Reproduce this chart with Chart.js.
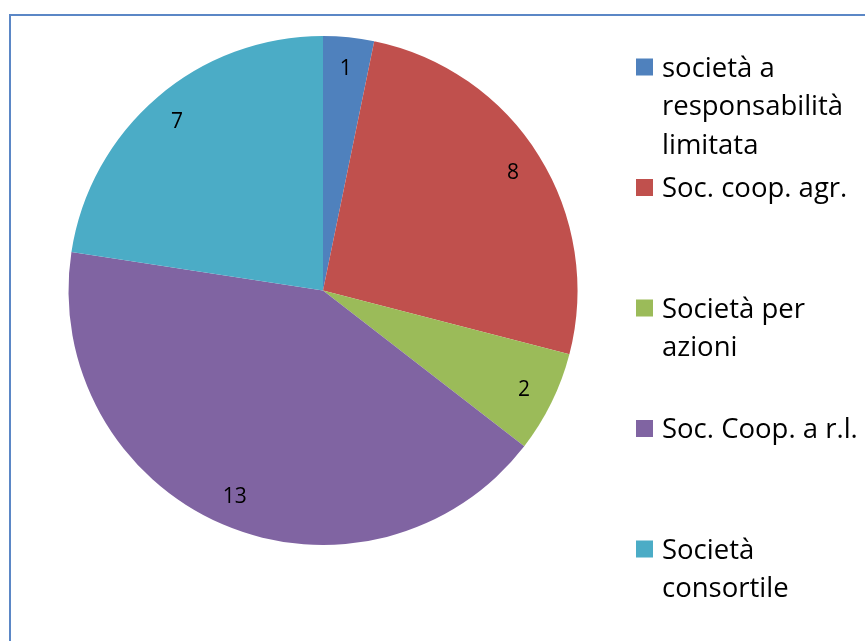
<!DOCTYPE html>
<html>
  <head>
    <meta charset="utf-8">
    <title>Forme giuridiche</title>
    <style>
      body {
        background-color: white;
        margin: 0;
        padding: 0;
      }
      .chart-box {
        width: 865px;
        height: 641px;
      }
    </style>
    <script src="https://cdn.jsdelivr.net/npm/chart.js"></script>
  </head>
  <body>
    <div class="chart-box">
      <canvas id="pieChart" width="865" height="641"></canvas>
    </div>
    <script>
      // categories and counts
      const categories = [
        ["società a", "responsabilità", "limitata"],
        ["Soc. coop. agr."],
        ["Società per", "azioni"],
        ["Soc. Coop. a r.l."],
        ["Società", "consortile"]
      ];
      const counts = [1, 8, 2, 13, 7];
      const colors = ["#4F81BD", "#C0504D", "#9BBB59", "#8064A2", "#4BACC6"];

      const FONT = "'Open Sans', sans-serif";

      // outer frame of the chart (right/bottom edges fall outside the window)
      const framePlugin = {
        id: "frame",
        beforeDraw(chart) {
          const ctx = chart.ctx;
          ctx.save();
          ctx.strokeStyle = "#5B87C6";
          ctx.lineWidth = 2;
          ctx.strokeRect(10, 15, 1200, 1200);
          ctx.restore();
        }
      };

      // value label inside each slice
      const valuePlugin = {
        id: "values",
        afterDatasetsDraw(chart) {
          const ctx = chart.ctx;
          const meta = chart.getDatasetMeta(0);
          ctx.save();
          ctx.fillStyle = "#000";
          ctx.font = "21px " + FONT;
          ctx.textAlign = "center";
          ctx.textBaseline = "middle";
          meta.data.forEach((arc, i) => {
            const mid = (arc.startAngle + arc.endAngle) / 2;
            const r = arc.outerRadius * 0.88;
            ctx.fillText(String(counts[i]), arc.x + Math.cos(mid) * r, arc.y + Math.sin(mid) * r + 1);
          });
          ctx.restore();
        }
      };

      // legend on the right with wrapped labels
      const legendPlugin = {
        id: "sideLegend",
        afterDraw(chart) {
          const ctx = chart.ctx;
          ctx.save();
          ctx.font = "27.5px " + FONT;
          ctx.textBaseline = "middle";
          categories.forEach((lines, i) => {
            const y0 = 67 + i * 120.5;
            ctx.fillStyle = colors[i];
            ctx.fillRect(636, y0 - 8.5, 17, 17);
            ctx.fillStyle = "#000";
            lines.forEach((t, j) => ctx.fillText(t, 662, y0 + 2 + j * 38.5));
          });
          ctx.restore();
        }
      };

      new Chart(document.getElementById("pieChart"), {
        type: "pie",
        data: {
          labels: categories.map(l => l.join(" ")),
          datasets: [{
            data: counts,
            backgroundColor: colors,
            borderWidth: 0
          }]
        },
        options: {
          responsive: false,
          animation: false,
          layout: { padding: { left: 68, top: 36, right: 287, bottom: 96 } },
          plugins: {
            legend: { display: false },
            tooltip: { enabled: false }
          }
        },
        plugins: [framePlugin, valuePlugin, legendPlugin]
      });
    </script>
  </body>
</html>
